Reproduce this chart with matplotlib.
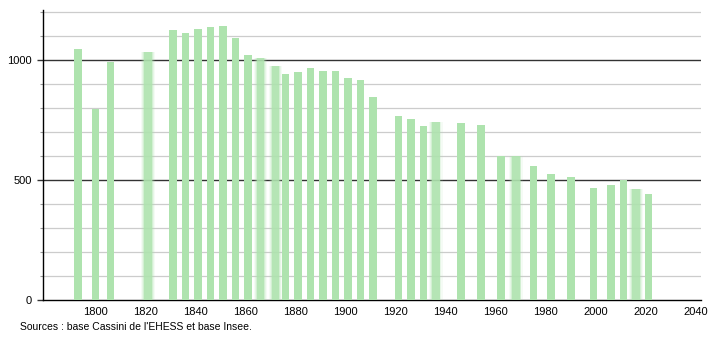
import matplotlib
matplotlib.use("Agg")
import matplotlib.pyplot as plt
from matplotlib import font_manager

years = [1793, 1800, 1806, 1821, 1831, 1836, 1841, 1846, 1851, 1856, 1861, 1866,
         1872, 1876, 1881, 1886, 1891, 1896, 1901, 1906, 1911, 1921, 1926, 1931,
         1936, 1946, 1954, 1962, 1968, 1975, 1982, 1990, 1999, 2006, 2011, 2016, 2021]
population = [1044, 796, 992, 1033, 1124, 1112, 1128, 1137, 1142, 1092, 1019, 1007,
              975, 942, 951, 967, 954, 954, 925, 918, 846, 768, 753, 725,
              742, 736, 729, 601, 600, 558, 525, 512, 465, 479, 500, 464, 440]
blurred_years = [1821, 1866, 1872, 1936, 1968, 2016]
x_ticks = list(range(1800, 2041, 20))
y_labels = [0, 500, 1000]
source_text = "Sources : base Cassini de l'EHESS et base Insee."

names = {f.name for f in font_manager.fontManager.ttflist}
fam = ['Liberation Sans Narrow', 'Liberation Sans', 'DejaVu Sans']
plt.rcParams['font.family'] = [f for f in fam if f in names] or ['DejaVu Sans']

W, H = 710, 340
fig = plt.figure(figsize=(W / 100, H / 100), dpi=100)
ax = fig.add_axes([43 / W, 40 / H, (701 - 43) / W, 290 / H])

bar_color = '#aee3ae'
width = 3.0
for y, p in zip(years, population):
    if y in blurred_years:
        for k, a in [(1.8, 0.12), (1.5, 0.2), (1.25, 0.35), (1.0, 0.8)]:
            ax.bar(y, p, width=width * k, color=bar_color, alpha=a, linewidth=0, zorder=3)
    else:
        ax.bar(y, p, width=width, color=bar_color, linewidth=0, zorder=3)

ax.set_xlim(1779, 2042)
ax.set_ylim(0, 1208)

for v in range(100, 1201, 100):
    if v % 500 == 0:
        ax.axhline(v, color='#333333', lw=1.0, zorder=2)
    else:
        ax.axhline(v, color='#cccccc', lw=0.9, zorder=1)

ax.set_xticks(x_ticks)
ax.set_xticklabels([str(t) for t in x_ticks], fontsize=8)
ax.tick_params(axis='x', length=0, pad=5)
ax.set_yticks(y_labels)
ax.set_yticklabels([str(t) for t in y_labels], fontsize=8)
ax.set_yticks(range(100, 1201, 100), minor=True)
ax.tick_params(axis='y', which='major', length=4, width=1, color='#333333', pad=4)
ax.tick_params(axis='y', which='minor', length=2, width=0.8, color='#999999')

for s in ['top', 'right']:
    ax.spines[s].set_visible(False)
ax.spines['left'].set_color('#000000')
ax.spines['bottom'].set_color('#000000')
ax.spines['left'].set_linewidth(1.0)
ax.spines['bottom'].set_linewidth(1.0)

fig.text(20 / W, 1 - 327 / H, source_text, fontsize=7.5, va='center', ha='left')

fig.savefig('out.png', dpi=100)
